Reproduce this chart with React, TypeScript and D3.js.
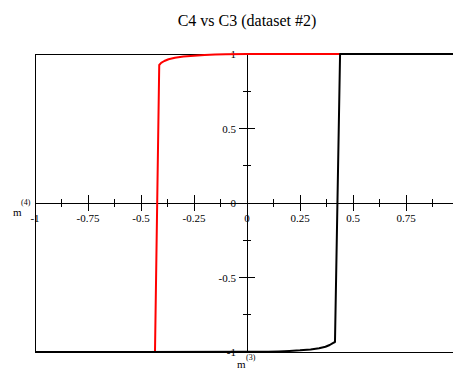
import React from "react";
import * as d3 from "d3";

// Magnetisation branches: m(4) against m(3)
const redM3 = [-1, -0.6, -0.434, -0.414, -0.405, -0.39, -0.37, -0.34, -0.3, -0.25, -0.2, -0.15, -0.1, 0, 0.5, 1];
const redM4 = [-1, -1, -1, 0.926, 0.94, 0.953, 0.965, 0.975, 0.983, 0.989, 0.993, 0.996, 0.998, 1, 1, 1];

const blackM3 = [-1, -0.5, 0, 0.1, 0.15, 0.2, 0.25, 0.3, 0.34, 0.37, 0.39, 0.405, 0.415, 0.439, 0.6, 1];
const blackM4 = [-1, -1, -0.999, -0.998, -0.996, -0.993, -0.989, -0.983, -0.975, -0.965, -0.953, -0.94, -0.933, 1, 1, 1];

const xMajor = [-0.75, -0.5, -0.25, 0.25, 0.5, 0.75];
const xMinor = [-0.875, -0.625, -0.375, -0.125, 0.125, 0.375, 0.625, 0.875];
const xLabels = [-1, -0.75, -0.5, -0.25, 0, 0.25, 0.5, 0.75];

const yMajor = [-0.5, 0.5];
const yMinor = [-0.75, -0.25, 0.25, 0.75];
const yLabels = [-1, -0.5, 0, 0.5, 1];

const title = "C4 vs C3 (dataset #2)";

const W = 453;
const H = 370;
const FONT = "'Liberation Serif', 'Times New Roman', serif";

export default function App() {
  const x = d3.scaleLinear().domain([-1, 1]).range([35, 459]);
  const y = d3.scaleLinear().domain([-1, 1]).range([352, 54]);

  const line = d3
    .line<[number, number]>()
    .x((d) => x(d[0]))
    .y((d) => y(d[1]));

  const red = line(redM3.map((v, i) => [v, redM4[i]] as [number, number])) || "";
  const black = line(blackM3.map((v, i) => [v, blackM4[i]] as [number, number])) || "";

  const x0 = x(0);
  const y0 = y(0);
  const fmt = (v: number) => String(v);

  return (
    <svg
      width={W}
      height={H}
      style={{ position: "absolute", left: 0, top: 0, background: "#fff" }}
      fontFamily={FONT}
    >
      <text x={x0} y={26} textAnchor="middle" fontSize={16}>
        {title}
      </text>

      {/* frame */}
      <g stroke="#000" strokeWidth={1} fill="none" shapeRendering="crispEdges">
        <line x1={x(-1)} x2={W} y1={y(1)} y2={y(1)} />
        <line x1={x(-1)} x2={W} y1={y(-1)} y2={y(-1)} />
        <line x1={x(-1)} x2={x(-1)} y1={y(1)} y2={y(-1)} />
        {/* axes through the origin */}
        <line x1={x(-1)} x2={W} y1={y0} y2={y0} />
        <line x1={x0} x2={x0} y1={y(1)} y2={y(-1)} />
        {xMajor.map((v) => (
          <line key={"xM" + v} x1={x(v)} x2={x(v)} y1={y0 - 8} y2={y0 + 8} />
        ))}
        {xMinor.map((v) => (
          <line key={"xm" + v} x1={x(v)} x2={x(v)} y1={y0 - 4} y2={y0 + 4} />
        ))}
        {yMajor.map((v) => (
          <line key={"yM" + v} x1={x0 - 8} x2={x0 + 8} y1={y(v)} y2={y(v)} />
        ))}
        {yMinor.map((v) => (
          <line key={"ym" + v} x1={x0 - 4} x2={x0 + 4} y1={y(v)} y2={y(v)} />
        ))}
      </g>

      {/* tick labels */}
      <g fontSize={11} fill="#000">
        {xLabels.map((v) => (
          <text key={"xl" + v} x={x(v)} y={y0 + 19} textAnchor="middle">
            {fmt(v)}
          </text>
        ))}
        {yLabels.map((v) => (
          <text key={"yl" + v} x={x0 - 11} y={y(v) + 4} textAnchor="end">
            {fmt(v)}
          </text>
        ))}
      </g>

      {/* axis titles */}
      <text x={13} y={216} fontSize={11}>
        m
      </text>
      <text x={21} y={205} fontSize={8}>
        (4)
      </text>
      <text x={237} y={368} fontSize={11}>
        m
      </text>
      <text x={246} y={360} fontSize={8}>
        (3)
      </text>

      {/* branches */}
      <path d={red} fill="none" stroke="#ff0000" strokeWidth={2} strokeLinejoin="round" />
      <path d={black} fill="none" stroke="#000" strokeWidth={2} strokeLinejoin="round" />
    </svg>
  );
}
